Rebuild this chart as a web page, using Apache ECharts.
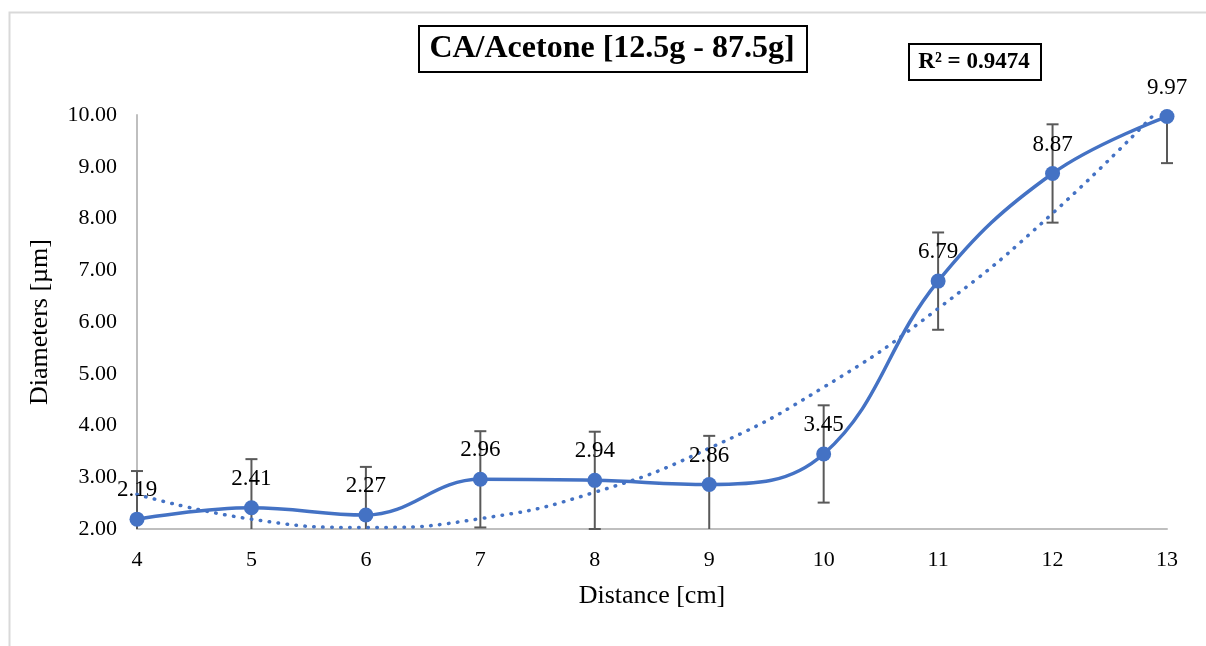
<!DOCTYPE html>
<html>
<head>
<meta charset="utf-8">
<script src="https://cdn.jsdelivr.net/npm/echarts@6/dist/echarts.min.js"></script>
<style>
html,body{margin:0;padding:0;background:#fff;}
#chart{width:1206px;height:646px;}
</style>
</head>
<body>
<div id="chart"></div>
<script>
// Data
const distances = [4, 5, 6, 7, 8, 9, 10, 11, 12, 13];
const diameters = [2.19, 2.41, 2.27, 2.96, 2.94, 2.86, 3.45, 6.79, 8.87, 9.97];
const errors = [0.93, 0.94, 0.93, 0.93, 0.94, 0.94, 0.94, 0.94, 0.95, 0.90];
// Polynomial trend line values
const trendValues = [2.67, 2.19, 2.03, 2.20, 2.71, 3.56, 4.74, 6.26, 8.10, 10.27];
const yTicks = [2, 3, 4, 5, 6, 7, 8, 9, 10];
const titleText = 'CA/Acetone [12.5g - 87.5g]';
const r2Text = 'R² = 0.9474';

const yMin = yTicks[0], yMax = yTicks[yTicks.length - 1];
const mainData = distances.map((d, i) => [d, diameters[i]]);
const trendData = distances.map((d, i) => [d, trendValues[i]]);
const errData = distances.map((d, i) => [d, diameters[i], errors[i]]);

const serif = '"Liberation Serif", "Times New Roman", serif';
const chart = echarts.init(document.getElementById('chart'));

chart.setOption({
  animation: false,
  backgroundColor: '#fff',
  graphic: [
    { type: 'rect', left: 7, top: 10, shape: { width: 1220, height: 660 },
      style: { fill: 'none', stroke: '#d9d9d9', lineWidth: 2 }, silent: true },
    { type: 'rect', left: 418, top: 25, shape: { width: 388, height: 46 },
      style: { fill: '#fff', stroke: '#000', lineWidth: 2 }, z: 10 },
    { type: 'text', x: 612, y: 49, z: 11,
      style: { text: titleText, font: 'bold 32px ' + serif, fill: '#000', align: 'center', verticalAlign: 'middle' } },
    { type: 'rect', left: 908, top: 43, shape: { width: 132, height: 36 },
      style: { fill: '#fff', stroke: '#000', lineWidth: 2 }, z: 10 },
    { type: 'text', x: 974, y: 62, z: 11,
      style: { text: r2Text, font: 'bold 23px ' + serif, fill: '#000', align: 'center', verticalAlign: 'middle' } }
  ],
  grid: { left: 137, right: 39, top: 115, bottom: 117 },
  xAxis: {
    type: 'value', min: 4, max: 13, interval: 1,
    name: 'Distance [cm]', nameLocation: 'middle', nameGap: 54,
    nameTextStyle: { fontFamily: serif, fontSize: 26, color: '#000' },
    axisLine: { show: true, lineStyle: { color: '#bfbfbf', width: 2 } },
    axisTick: { show: false },
    splitLine: { show: false },
    axisLabel: { fontFamily: serif, fontSize: 22, color: '#000', margin: 20 }
  },
  yAxis: {
    type: 'value', min: yMin, max: yMax, interval: 1,
    name: 'Diameters [µm]', nameLocation: 'middle', nameGap: 84,
    nameTextStyle: { fontFamily: serif, fontSize: 26, color: '#000' },
    axisLine: { show: true, lineStyle: { color: '#bfbfbf', width: 2 } },
    axisTick: { show: false },
    splitLine: { show: false },
    axisLabel: { fontFamily: serif, fontSize: 22, color: '#000', margin: 20,
      formatter: v => v.toFixed(2) }
  },
  series: [
    {
      type: 'custom', name: 'err', z: 2,
      data: errData,
      renderItem: function (params, api) {
        const x = api.value(0), v = api.value(1), e = api.value(2);
        const lo = v - e, hi = v + e;
        const pLo = api.coord([x, Math.max(lo, yMin)]);
        const pHi = api.coord([x, Math.min(hi, yMax)]);
        const style = { stroke: '#595959', lineWidth: 2 };
        const children = [{ type: 'line', shape: { x1: pLo[0], y1: pLo[1], x2: pHi[0], y2: pHi[1] }, style }];
        const cw = 6;
        if (lo >= yMin) children.push({ type: 'line', shape: { x1: pLo[0] - cw, y1: pLo[1], x2: pLo[0] + cw, y2: pLo[1] }, style });
        if (hi <= yMax) children.push({ type: 'line', shape: { x1: pHi[0] - cw, y1: pHi[1], x2: pHi[0] + cw, y2: pHi[1] }, style });
        return { type: 'group', children };
      }
    },
    {
      type: 'line', name: 'trend', z: 3,
      data: trendData, smooth: 0.5, showSymbol: false, clip: true,
      lineStyle: { color: '#4472C4', width: 3.5, type: [0.5, 8.5], cap: 'round' }
    },
    {
      type: 'line', name: 'Diameter', z: 4,
      data: mainData, smooth: 0.4,
      symbol: 'circle', symbolSize: 15,
      itemStyle: { color: '#4472C4' },
      lineStyle: { color: '#4472C4', width: 3.5 },
      label: { show: true, position: 'top', distance: 10,
        fontFamily: serif, fontSize: 23, color: '#000',
        formatter: p => p.value[1].toFixed(2) }
    }
  ]
});
</script>
</body>
</html>
